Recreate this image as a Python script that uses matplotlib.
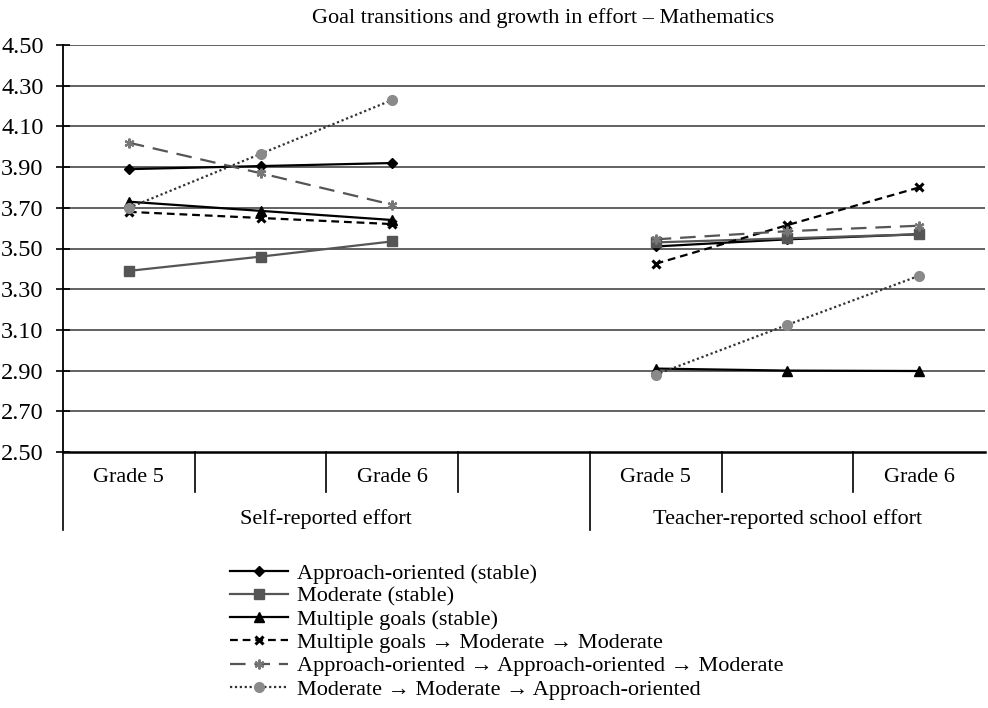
import matplotlib
matplotlib.use("Agg")
import matplotlib.pyplot as plt
from matplotlib.lines import Line2D
import matplotlib.transforms as mtransforms

plt.rcParams['font.family'] = ['Liberation Serif', 'DejaVu Serif']

# x slots: 0,1,2 self-reported; 3 empty; 4,5,6 teacher-reported
self_x = [0, 1, 2]
teacher_x = [4, 5, 6]

series_names = [
    "Approach-oriented (stable)",
    "Moderate (stable)",
    "Multiple goals (stable)",
    "Multiple goals \u2192 Moderate \u2192 Moderate",
    "Approach-oriented \u2192 Approach-oriented \u2192 Moderate",
    "Moderate \u2192 Moderate \u2192 Approach-oriented",
]

self_vals = [
    [3.89, 3.905, 3.92],
    [3.39, 3.46, 3.535],
    [3.73, 3.685, 3.64],
    [3.68, 3.65, 3.62],
    [4.02, 3.87, 3.715],
    [3.70, 3.965, 4.23],
]
teacher_vals = [
    [3.51, 3.545, 3.57],
    [3.53, 3.55, 3.57],
    [2.91, 2.90, 2.898],
    [3.425, 3.615, 3.80],
    [3.545, 3.585, 3.612],
    [2.88, 3.125, 3.366],
]

grade_labels = ["Grade 5", "", "Grade 6", "", "Grade 5", "", "Grade 6"]
group_labels = ["Self-reported effort", "Teacher-reported school effort"]
yticks = [2.50, 2.70, 2.90, 3.10, 3.30, 3.50, 3.70, 3.90, 4.10, 4.30, 4.50]
title = "Goal transitions and growth in effort \u2013 Mathematics"

styles = [
    dict(color='black', ls='-', marker='D', ms=5, mfc='black', mec='black'),
    dict(color='#555555', ls='-', marker='s', ms=7.5, mfc='#555555', mec='#555555'),
    dict(color='black', ls='-', marker='^', ms=7, mfc='black', mec='black'),
    dict(color='black', ls=(0, (3.5, 2.2)), marker='x', ms=6, mew=2.2, mfc='black', mec='black'),
    dict(color='#555555', ls=(0, (7, 4)), marker=(6, 2, 0), ms=7, mew=1.6, mfc='#777777', mec='#777777'),
    dict(color='#333333', ls=(0, (1, 1.2)), marker='o', ms=7, mfc='#8a8a8a', mec='#8a8a8a'),
]

W, H = 988, 708
fig = plt.figure(figsize=(W / 100, H / 100), dpi=100)
ax = fig.add_axes([63 / W, (H - 452) / H, 922 / W, 407 / H])

for yv in yticks[1:]:
    ax.axhline(yv, color='#555555', lw=1.3, zorder=0)

handles = []
for i, name in enumerate(series_names):
    st = styles[i]
    ax.plot(self_x, self_vals[i], lw=1.6, label=name, **st)
    ax.plot(teacher_x, teacher_vals[i], lw=1.6, **st)
    handles.append(Line2D([0], [0], lw=1.6, **st))

ax.set_xlim(-0.5, 6.5)
ax.set_ylim(2.5, 4.5)
ax.set_yticks(yticks)
ax.set_yticklabels([f"{v:.2f}" for v in yticks], fontsize=17.5)
ax.tick_params(axis='y', direction='inout', length=10, width=1.2, pad=9)
ax.set_xticks([])
for s in ['top', 'right']:
    ax.spines[s].set_visible(False)
ax.spines['left'].set_linewidth(1.3)
ax.spines['bottom'].set_linewidth(1.8)

trans = mtransforms.blended_transform_factory(ax.transData, ax.transAxes)
short_y = -40 / 407
long_y = -78 / 407
# dividers
ax.plot([-0.5, -0.5], [0, long_y], color='black', lw=1.2, transform=trans, clip_on=False)
for xb in [0.5, 1.5, 2.5, 4.5, 5.5]:
    ax.plot([xb, xb], [0, short_y], color='black', lw=1.2, transform=trans, clip_on=False)
ax.plot([3.5, 3.5], [0, long_y], color='black', lw=1.2, transform=trans, clip_on=False)

for xi, lab in enumerate(grade_labels):
    if lab:
        ax.text(xi, -25 / 407, lab, transform=trans, ha='center', va='center', fontsize=16)
ax.text(1.5, -67 / 407, group_labels[0], transform=trans, ha='center', va='center', fontsize=16)
ax.text(5.0, -67 / 407, group_labels[1], transform=trans, ha='center', va='center', fontsize=16)

fig.text(543 / W, 1 - 18 / H, title, ha='center', va='center', fontsize=16)

leg = fig.legend(handles, series_names, loc='upper left',
                 bbox_to_anchor=(230 / W, 1 - 563 / H), frameon=False,
                 fontsize=16, handlelength=2.6, handletextpad=0.4,
                 labelspacing=0.12, borderaxespad=0, borderpad=0)

fig.savefig("out.png", dpi=100)
